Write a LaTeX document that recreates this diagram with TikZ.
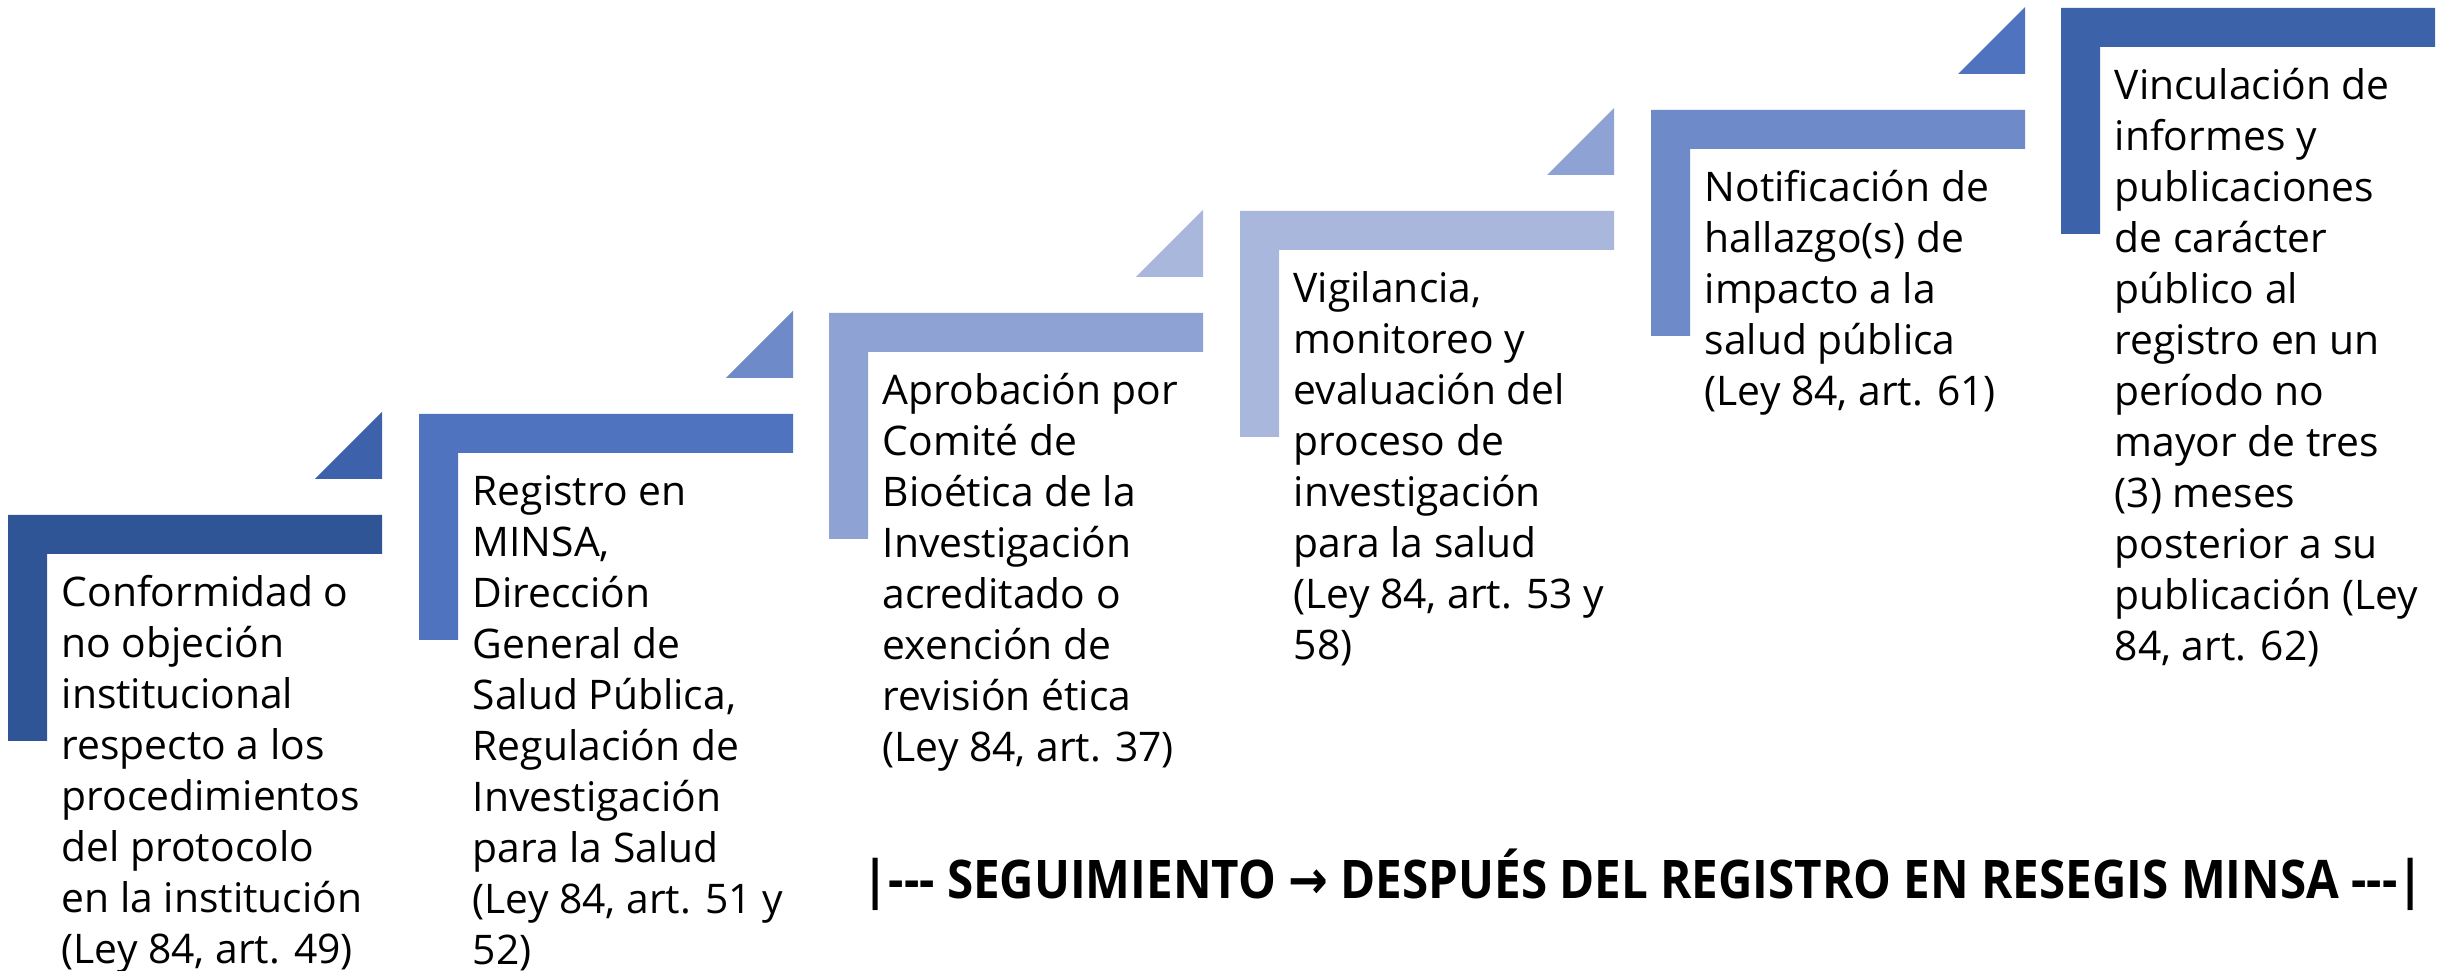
\documentclass[tikz,border=0pt]{standalone}
\usepackage{fontspec}
\setmainfont{Open Sans}
\newfontfamily\arrowfont{DejaVu Sans}
\usepackage{graphicx}
\usetikzlibrary{positioning}
\definecolor{stepA}{RGB}{47,85,151}
\definecolor{triA}{RGB}{61,98,171}
\definecolor{stepB}{RGB}{79,115,190}
\definecolor{triB}{RGB}{111,138,200}
\definecolor{stepC}{RGB}{143,162,212}
\definecolor{triC}{RGB}{169,183,220}
\definecolor{stepD}{RGB}{169,183,220}
\definecolor{triD}{RGB}{143,162,212}
\definecolor{stepE}{RGB}{111,138,200}
\definecolor{triE}{RGB}{79,115,190}
\definecolor{stepF}{RGB}{60,98,170}
% nodes sit on the baseline of their last line
\tikzset{steptext/.style={anchor=base west,align=left,inner sep=0pt,font=\fontsize{11.6}{14.51}\selectfont}}

\begin{document}
\begin{tikzpicture}[x=0.01cm,y=-0.01cm]
  \useasboundingbox (0,0) rectangle (2445,971);
  %draw steps
    \fill[stepA] (8,515) -- ++(374,0) -- ++(0,39) -- ++(-335,0) -- ++(0,187) -- ++(-39,0) -- cycle;
    \fill[stepB] (419,414) -- ++(374,0) -- ++(0,39) -- ++(-335,0) -- ++(0,187) -- ++(-39,0) -- cycle;
    \fill[stepC] (829,313) -- ++(374,0) -- ++(0,39) -- ++(-335,0) -- ++(0,187) -- ++(-39,0) -- cycle;
    \fill[stepD] (1240,211) -- ++(374,0) -- ++(0,39) -- ++(-335,0) -- ++(0,187) -- ++(-39,0) -- cycle;
    \fill[stepE] (1651,110) -- ++(374,0) -- ++(0,39) -- ++(-335,0) -- ++(0,187) -- ++(-39,0) -- cycle;
    \fill[stepF] (2061,8) -- ++(374,0) -- ++(0,39) -- ++(-335,0) -- ++(0,187) -- ++(-39,0) -- cycle;
  %draw triangles
    \fill[triA] (315,479) -- (382,479) -- (382,412) -- cycle;
    \fill[triB] (726,378) -- (793,378) -- (793,311) -- cycle;
    \fill[triC] (1136,277) -- (1203,277) -- (1203,210) -- cycle;
    \fill[triD] (1547,175) -- (1614,175) -- (1614,108) -- cycle;
    \fill[triE] (1958,74) -- (2025,74) -- (2025,7) -- cycle;
  %insert step texts
    \node[steptext] (st1) at (61,964) {Conformidad o\\no objeción\\institucional\\respecto a los\\procedimientos\\del protocolo\\en la institución\\(Ley 84, art. 49)};
    \node[steptext] (st2) at (472,965) {Registro en\\MINSA,\\Dirección\\General de\\Salud Pública,\\Regulación de\\Investigación\\para la Salud\\(Ley 84, art. 51 y\\52)};
    \node[steptext] (st3) at (882,762) {Aprobación por\\Comité de\\Bioética de la\\Investigación\\acreditado o\\exención de\\revisión ética\\(Ley 84, art. 37)};
    \node[steptext] (st4) at (1293,660) {Vigilancia,\\monitoreo y\\evaluación del\\proceso de\\investigación\\para la salud\\(Ley 84, art. 53 y\\58)};
    \node[steptext] (st5) at (1704,406) {Notificación de\\hallazgo(s) de\\impacto a la\\salud pública\\(Ley 84, art. 61)};
    \node[steptext] (st6) at (2114,661) {Vinculación de\\informes y\\publicaciones\\de carácter\\público al\\registro en un\\período no\\mayor de tres\\(3) meses\\posterior a su\\publicación (Ley\\84, art. 62)};
  %insert follow-up label
    \node[anchor=base west,inner sep=0pt,font=\bfseries\fontsize{14}{16}\selectfont] (seg) at (862,899)
      {\scalebox{1}[1.12]{\resizebox{15.6cm}{!}{|-{}-{}- SEGUIMIENTO {\arrowfont\bfseries →} DESPUÉS DEL REGISTRO EN RESEGIS MINSA -{}-{}-|}}};
\end{tikzpicture}
\end{document}
